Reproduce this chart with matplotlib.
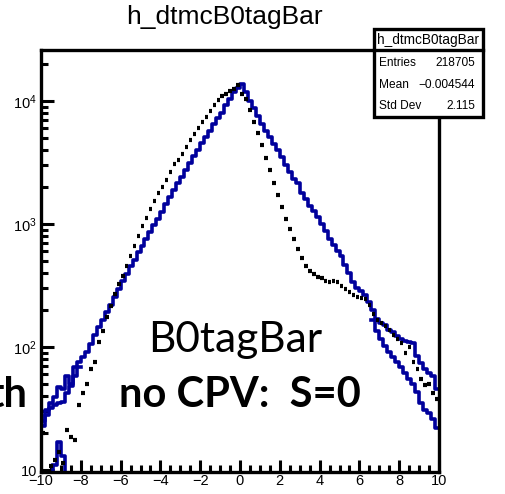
import numpy as np
import matplotlib
matplotlib.use("Agg")
import matplotlib.pyplot as plt
from matplotlib.patches import Rectangle
from matplotlib.lines import Line2D
from matplotlib.ticker import FixedLocator, FixedFormatter, MultipleLocator, LogLocator, NullFormatter

# ---------------- data ----------------
bin_edges = np.linspace(-10, 10, 101)

blue_main = [25, 31, 35, 39, 47, 46, 58, 50, 69, 76,
             83, 91, 105, 126, 145, 166, 191, 221, 257, 295,
             343, 394, 452, 513, 589, 668, 759, 861, 977, 1109,
             1259, 1445, 1660, 1884, 2138, 2427, 2754, 3126, 3548, 4027,
             4519, 5129, 5754, 6457, 7244, 8035, 9333, 10471, 11749, 12882,
             13709, 11749, 10000, 8710, 7586, 6531, 5754, 5070, 4467, 3981,
             3508, 3020, 2630, 2344, 2138, 1778, 1585, 1413, 1288, 1148,
             1000, 871, 759, 676, 603, 550, 468, 398, 339, 302,
             288, 263, 234, 200, 170, 158, 151, 138, 132, 123,
             117, 112, 110, 107, 85, 74, 66, 62, 58, 46]

nan = float("nan")
blue_alt_left = [23, 28, 32, 34, 35, 36, 42, 48, 58, 69]
blue_alt_right = [166, 135, 117, 102, 91, 83, 76, 69, 62, 55, 50, 43, 35, 31, 29, 26, 22]
blue_alt = blue_alt_left + [nan] * (100 - len(blue_alt_left) - len(blue_alt_right)) + blue_alt_right

bump_edges = [-9.4, -9.2, -9.0, -8.8, -8.6]
blue_bump = [11, 17, 13, 9]

black_pts = [20, 9.5, 10.7, 12, 14, 11.5, 21, 18.6, 17.4, 34,
             42, 50, 66, 76, 110, 135, 174, 214, 269, 324,
             380, 457, 550, 661, 794, 955, 1122, 1318, 1549, 1778,
             1995, 2291, 2630, 3055, 3311, 3715, 4217, 4786, 5370, 6026,
             6761, 7413, 8318, 9333, 10233, 10965, 11482, 12023, 12589, 13490,
             11480, 10470, 8453, 6761, 5458, 4365, 3467, 2754, 2138, 1738,
             1380, 1096, 906, 752, 631, 525, 457, 417, 389, 372,
             363, 347, 339, 347, 339, 316, 295, 282, 263, 257,
             251, 245, 219, 186, 166, 158, 148, 138, 126, 117,
             107, 89, 100, 76, 66, 55, 49, 50, 42, 38]

x_ticks = [-10, -8, -6, -4, -2, 0, 2, 4, 6, 8, 10]
y_ticks = [10, 100, 1000, 10000]
y_tick_labels = ["10", r"$10^{2}$", r"$10^{3}$", r"$10^{4}$"]

title = "h_dtmcB0tagBar"
stats_rows = [("Entries", "218705"), ("Mean", "\u22120.004544"), ("Std Dev", "2.115")]

# ---------------- style ----------------
plt.rcParams["font.family"] = ["Liberation Sans", "DejaVu Sans"]
plt.rcParams["mathtext.fontset"] = "custom"
plt.rcParams["mathtext.rm"] = "Liberation Sans"
plt.rcParams["mathtext.it"] = "Liberation Sans"

W, H = 505, 494
fig = plt.figure(figsize=(W / 100, H / 100), dpi=100)
ax = fig.add_axes([41 / W, 1 - 471.5 / H, (439 - 41) / W, (471.5 - 50) / H])

BLUE = "#00009c"
edges = np.asarray(bin_edges)

def step_xy(e, v):
    v = np.asarray(v, dtype=float)
    return np.asarray(e), np.append(v, v[-1])

LW_BLUE = 2.6
xs, ys = step_xy(edges, blue_main)
ax.step(xs, ys, where="post", color=BLUE, lw=LW_BLUE)
xs, ys = step_xy(edges, blue_alt)
ax.step(xs, ys, where="post", color=BLUE, lw=LW_BLUE)
xs, ys = step_xy(bump_edges, blue_bump)
ax.step(xs, ys, where="post", color=BLUE, lw=LW_BLUE)
ax.vlines([bump_edges[0]], [5], [blue_bump[0]], color=BLUE, lw=LW_BLUE)

bw = edges[1] - edges[0]
ax.hlines(black_pts, edges[:-1] + 0.1 * bw, edges[1:] - 0.02 * bw,
          color="black", lw=3.0, zorder=3)

ax.set_yscale("log")
ax.set_xlim(-10, 10)
ax.set_ylim(10 ** 0.988, 10 ** 4.415)

ax.xaxis.set_major_locator(FixedLocator(x_ticks))
ax.xaxis.set_minor_locator(MultipleLocator(0.5))
ax.yaxis.set_major_locator(FixedLocator(y_ticks))
ax.yaxis.set_major_formatter(FixedFormatter(y_tick_labels))
ax.yaxis.set_minor_locator(LogLocator(base=10, subs=np.arange(2, 10)))
ax.yaxis.set_minor_formatter(NullFormatter())

ax.tick_params(which="both", direction="in", top=False, right=False, width=2.2, color="black")
ax.tick_params(axis="x", which="major", length=9, labelsize=10.5, pad=2)
ax.tick_params(axis="x", which="minor", length=5)
ax.tick_params(axis="y", which="major", length=9, labelsize=10.5, pad=3)
ax.tick_params(axis="y", which="minor", length=5)
for s in ax.spines.values():
    s.set_linewidth(2.4)

fig.text(224 / W, 1 - 24 / H, title, ha="center", va="baseline", fontsize=19)

# stats box
bx0, bx1, by0, by1 = 374, 483, 29, 117
box = Rectangle((bx0 / W, 1 - by1 / H), (bx1 - bx0) / W, (by1 - by0) / H,
                transform=fig.transFigure, facecolor="white", edgecolor="black",
                lw=2.4, zorder=10)
fig.patches.append(box)
fig.lines.append(Line2D([bx0 / W, bx1 / W], [1 - 50 / H, 1 - 50 / H],
                        transform=fig.transFigure, color="black", lw=2.4, zorder=11))
fig.text((bx0 + bx1) / 2 / W, 1 - 40 / H, title, ha="center", va="center",
         fontsize=9.8, zorder=12)
for i, (k, v) in enumerate(stats_rows):
    yy = 1 - (63 + 21.5 * i) / H
    fig.text(379 / W, yy, k, ha="left", va="center", fontsize=8.6, zorder=12)
    fig.text(475 / W, yy, v, ha="right", va="center", fontsize=8.6, zorder=12)

# overlay texts
fig.text(235 / W, 1 - 352 / H, "B0tagBar", ha="center", va="baseline",
         fontsize=30.5, family=["Lato", "DejaVu Sans"], zorder=20)
fig.text(240 / W, 1 - 406.7 / H, "no CPV:  S=0", ha="center", va="baseline",
         fontsize=30, fontweight="bold", family=["Lato", "DejaVu Sans"], zorder=20)
fig.text(27 / W, 1 - 406.7 / H, "th", ha="right", va="baseline",
         fontsize=30, fontweight="bold", family=["Lato", "DejaVu Sans"], zorder=20)

fig.savefig("out.png", dpi=100)
